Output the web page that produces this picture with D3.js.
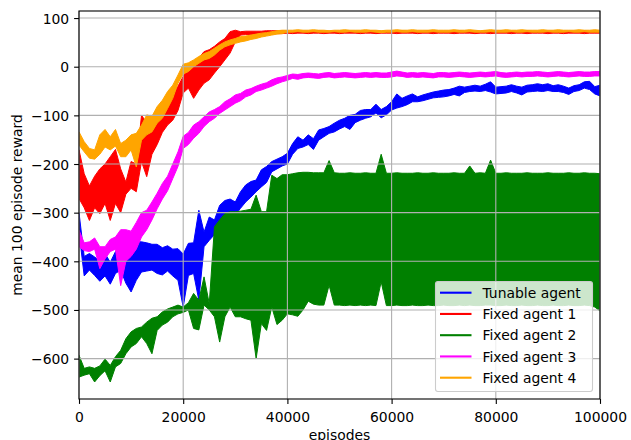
<!DOCTYPE html>
<html><head><meta charset="utf-8">
<script src="https://cdn.jsdelivr.net/npm/d3@7/dist/d3.min.js"></script>
<style>body{margin:0;background:#fff}svg{display:block}text{font-family:"DejaVu Sans",sans-serif;}</style>
</head><body>
<svg id="c" width="631" height="440"></svg>
<script>
const episodes = d3.range(0, 100001, 1000);
const xTicks = [0, 20000, 40000, 60000, 80000, 100000];
const yTicks = [100, 0, -100, -200, -300, -400, -500, -600];
const seriesNames = ["Tunable agent", "Fixed agent 1", "Fixed agent 2", "Fixed agent 3", "Fixed agent 4"];

const tunableLow = [-340,-430,-418,-429,-441,-430,-447,-425,-418,-445,
 -463,-439,-422,-420,-418,-425,-428,-420,-430,-439,
 -494,-429,-425,-480,-370,-357,-345,-319,-306,-300,
 -305,-291,-278,-268,-257,-247,-238,-216,-210,-204,
 -200,-180,-168,-165,-160,-170,-151,-144,-137,-134,
 -128,-123,-129,-115,-110,-106,-103,-95,-105,-99,
 -89,-85,-82,-78,-72,-72,-70,-67,-64,-63,
 -62,-60,-57,-60,-53,-51,-50,-51,-49,-52,
 -56,-55,-54,-51,-54,-58,-52,-51,-50,-51,
 -49,-51,-51,-53,-57,-51,-49,-44,-47,-56,
 -60];
const tunableHigh = [-300,-390,-384,-391,-400,-384,-402,-380,-375,-370,
 -372,-360,-360,-362,-365,-365,-372,-368,-375,-374,
 -385,-363,-362,-295,-340,-309,-315,-285,-275,-272,
 -278,-257,-243,-236,-233,-212,-205,-195,-190,-185,
 -178,-158,-144,-151,-140,-148,-130,-127,-123,-116,
 -110,-106,-100,-98,-90,-88,-88,-77,-88,-82,
 -72,-56,-65,-60,-56,-62,-58,-55,-52,-50,
 -48,-47,-44,-40,-42,-40,-38,-40,-36,-31,
 -42,-41,-40,-37,-40,-42,-38,-37,-35,-37,
 -35,-39,-37,-40,-44,-39,-37,-31,-30,-41,
 -38];

const fixed1Low = [-271,-290,-316,-290,-302,-281,-316,-281,-300,-262,
 -250,-257,-195,-226,-180,-160,-135,-120,-110,-90,
 -54,-44,-65,-48,-34,-27,-13,0,14,28,
 51,65,66,66,67,67,67,67,68,68,
 69,68,69,69,68,69,69,68,69,69,
 68,69,69,69,68,69,69,68,69,69,
 69,68,69,69,69,68,69,69,68,69,
 69,69,68,69,69,69,68,69,69,68,
 69,69,69,68,69,69,68,69,69,69,
 68,69,69,68,69,69,69,68,69,69,
 69];
const fixed1High = [-171,-220,-245,-225,-210,-200,-185,-170,-210,-237,
 -195,-200,-100,-115,-130,-105,-92,-80,-60,-40,
 -20,0,10,18,31,35,42,51,58,72,
 75,72,73,73,73,73,74,74,74,74,
 73,73,74,73,73,73,74,73,73,73,
 73,74,73,73,73,73,74,73,73,73,
 73,73,74,73,73,73,73,74,73,73,
 73,73,73,74,73,73,73,73,74,73,
 73,74,73,73,73,73,74,73,73,73,
 73,73,74,73,73,73,73,74,73,73,
 73];

const fixed2Low = [-638,-634,-631,-648,-635,-625,-648,-617,-610,-590,
 -576,-569,-555,-569,-590,-542,-531,-525,-514,-508,
 -505,-500,-538,-541,-490,-500,-514,-566,-514,-494,
 -514,-514,-518,-521,-600,-528,-542,-494,-530,-521,
 -508,-510,-513,-500,-482,-488,-490,-490,-449,-490,
 -490,-491,-490,-491,-490,-491,-490,-491,-442,-491,
 -491,-490,-491,-491,-490,-491,-491,-490,-491,-491,
 -490,-491,-491,-490,-491,-490,-491,-491,-490,-490,
 -491,-491,-490,-491,-491,-490,-491,-491,-490,-491,
 -491,-490,-491,-491,-490,-491,-491,-490,-491,-494,
 -502];
const fixed2High = [-593,-620,-617,-620,-615,-601,-614,-596,-583,-559,
 -545,-538,-535,-525,-517,-514,-504,-498,-494,-490,
 -494,-485,-466,-480,-432,-487,-329,-315,-302,-298,
 -298,-297,-295,-293,-264,-298,-298,-223,-230,-222,
 -222,-220,-218,-217,-217,-218,-218,-218,-193,-218,
 -219,-219,-218,-219,-219,-218,-219,-219,-180,-219,
 -219,-218,-219,-219,-219,-218,-219,-219,-218,-219,
 -219,-219,-218,-219,-219,-204,-219,-218,-219,-192,
 -219,-219,-218,-219,-219,-219,-218,-219,-219,-219,
 -218,-219,-219,-219,-218,-219,-219,-218,-219,-219,
 -220];

const fixed3Low = [-370,-378,-380,-375,-415,-395,-380,-375,-450,-400,
 -390,-375,-350,-335,-315,-292,-272,-255,-230,-205,
 -168,-160,-147,-137,-123,-113,-106,-96,-89,-82,
 -75,-70,-62,-58,-51,-48,-44,-40,-35,-31,
 -28,-24,-26,-23,-22,-23,-24,-22,-21,-23,
 -22,-21,-22,-23,-22,-21,-22,-21,-22,-22,
 -21,-19,-20,-22,-21,-22,-21,-22,-23,-21,
 -21,-22,-21,-20,-21,-22,-21,-20,-21,-20,
 -19,-21,-22,-21,-20,-21,-20,-20,-19,-20,
 -21,-20,-19,-20,-21,-20,-19,-20,-20,-19,
 -19];
const fixed3High = [-336,-362,-360,-352,-370,-370,-355,-350,-335,-335,
 -338,-320,-300,-295,-278,-260,-240,-225,-200,-175,
 -143,-135,-120,-113,-103,-93,-88,-82,-72,-66,
 -58,-55,-48,-45,-40,-36,-33,-27,-23,-21,
 -18,-15,-16,-14,-13,-14,-15,-13,-12,-14,
 -13,-12,-13,-14,-13,-12,-13,-12,-13,-13,
 -11,-9,-11,-13,-12,-13,-12,-13,-14,-12,
 -12,-13,-12,-11,-12,-13,-12,-11,-12,-11,
 -10,-12,-13,-12,-11,-12,-11,-11,-10,-11,
 -12,-11,-10,-11,-12,-11,-10,-11,-11,-10,
 -10];

const fixed4Low = [-161,-175,-188,-190,-180,-165,-171,-163,-185,-185,
 -171,-206,-151,-140,-134,-116,-106,-86,-65,-34,
 -15,-10,0,7,14,17,24,34,41,45,
 48,51,53,56,58,61,63,65,67,68,
 71,71,72,71,71,72,71,71,71,72,
 71,71,72,71,71,71,72,71,70,71,
 71,72,71,71,72,71,71,71,72,71,
 71,71,72,71,71,72,71,71,71,72,
 71,71,71,72,71,71,72,71,71,71,
 72,71,71,71,72,71,71,72,71,71,
 71];
const fixed4High = [-134,-154,-168,-171,-140,-129,-144,-129,-158,-151,
 -140,-137,-120,-99,-102,-82,-69,-51,-38,-17,
 5,8,14,21,27,31,38,45,51,55,
 58,62,63,65,67,69,70,72,74,75,
 75,75,76,75,75,76,75,75,74,75,
 75,76,75,75,75,76,75,75,74,75,
 75,76,75,75,76,75,75,75,76,75,
 75,75,76,75,75,76,75,74,75,76,
 75,75,76,75,75,76,75,75,75,76,
 75,75,76,75,75,75,76,75,75,76,
 75];

const lows = [tunableLow, fixed1Low, fixed2Low, fixed3Low, fixed4Low];
const highs = [tunableHigh, fixed1High, fixed2High, fixed3High, fixed4High];
const colors = ["#0000ff", "#ff0000", "#008000", "#ff00ff", "#ffa500"];

const svg = d3.select("#c");
const L = 79, R = 600, T = 11, B = 399;
const x = d3.scaleLinear().domain([0, 100000]).range([L, R]);
const y = d3.scaleLinear().domain([-683, 114.5]).range([B, T]);
const FS = 13.9;

svg.append("defs").append("clipPath").attr("id", "clip")
  .append("rect").attr("x", L).attr("y", T).attr("width", R - L).attr("height", B - T);

const plot = svg.append("g").attr("clip-path", "url(#clip)");
seriesNames.forEach((name, i) => {
  const pts = episodes.map((e, k) => ({e, lo: lows[i][k], hi: highs[i][k]}));
  const area = d3.area().x(d => x(d.e)).y0(d => y(d.lo)).y1(d => y(d.hi));
  plot.append("path").datum(pts).attr("d", area)
    .attr("fill", colors[i]).attr("stroke", colors[i]).attr("stroke-width", 1.0)
    .attr("stroke-linejoin", "round");
});

// grid (drawn over fills, as in the reference)
const grid = svg.append("g");
xTicks.forEach(t => grid.append("line").attr("x1", x(t)).attr("x2", x(t)).attr("y1", T).attr("y2", B)
  .attr("stroke", "#b0b0b0").attr("stroke-width", 1.1));
yTicks.forEach(t => grid.append("line").attr("x1", L).attr("x2", R).attr("y1", y(t)).attr("y2", y(t))
  .attr("stroke", "#b0b0b0").attr("stroke-width", 1.1));

// axes
const xAxis = d3.axisBottom(x).tickValues(xTicks).tickFormat(d3.format("d")).tickSizeOuter(0).tickSize(4.9).tickPadding(4.9);
const yAxis = d3.axisLeft(y).tickValues(yTicks).tickFormat(d => d < 0 ? "\u2212" + Math.abs(d) : String(d)).tickSizeOuter(0).tickSize(4.9).tickPadding(4.9);
const gx = svg.append("g").attr("transform", `translate(0,${B})`).call(xAxis);
const gy = svg.append("g").attr("transform", `translate(${L},0)`).call(yAxis);
[gx, gy].forEach(g => {
  g.select(".domain").remove();
  g.selectAll(".tick line").attr("stroke", "#000").attr("stroke-width", 1.1);
  g.selectAll(".tick text").attr("font-size", FS).attr("fill", "#000").attr("font-family", "DejaVu Sans");
});
gx.selectAll(".tick text").attr("dy", null).attr("y", 23);
gy.selectAll(".tick text").attr("dy", "0.36em");

// spines
svg.append("rect").attr("x", L).attr("y", T).attr("width", R - L).attr("height", B - T)
  .attr("fill", "none").attr("stroke", "#000").attr("stroke-width", 1.1);

// labels
svg.append("text").attr("x", (L + R) / 2).attr("y", 440).attr("text-anchor", "middle")
  .attr("font-size", FS).text("episodes");
svg.append("text").attr("transform", `translate(22,${(T + B) / 2}) rotate(-90)`).attr("text-anchor", "middle")
  .attr("font-size", FS).text("mean 100 episode reward");

// legend
const lg = svg.append("g");
lg.append("rect").attr("x", 435.5).attr("y", 281.5).attr("width", 157).attr("height", 110).attr("rx", 2.5)
  .attr("fill", "#fff").attr("fill-opacity", 0.8).attr("stroke", "#cccccc").attr("stroke-width", 1.1);
seriesNames.forEach((name, i) => {
  const yy = 292.7 + i * 21.25;
  lg.append("line").attr("x1", 440).attr("x2", 471.5).attr("y1", yy).attr("y2", yy)
    .attr("stroke", colors[i]).attr("stroke-width", 2.1);
  lg.append("text").attr("x", 482.5).attr("y", yy + 5.2).attr("font-size", FS).text(name);
});
</script>
</body></html>
